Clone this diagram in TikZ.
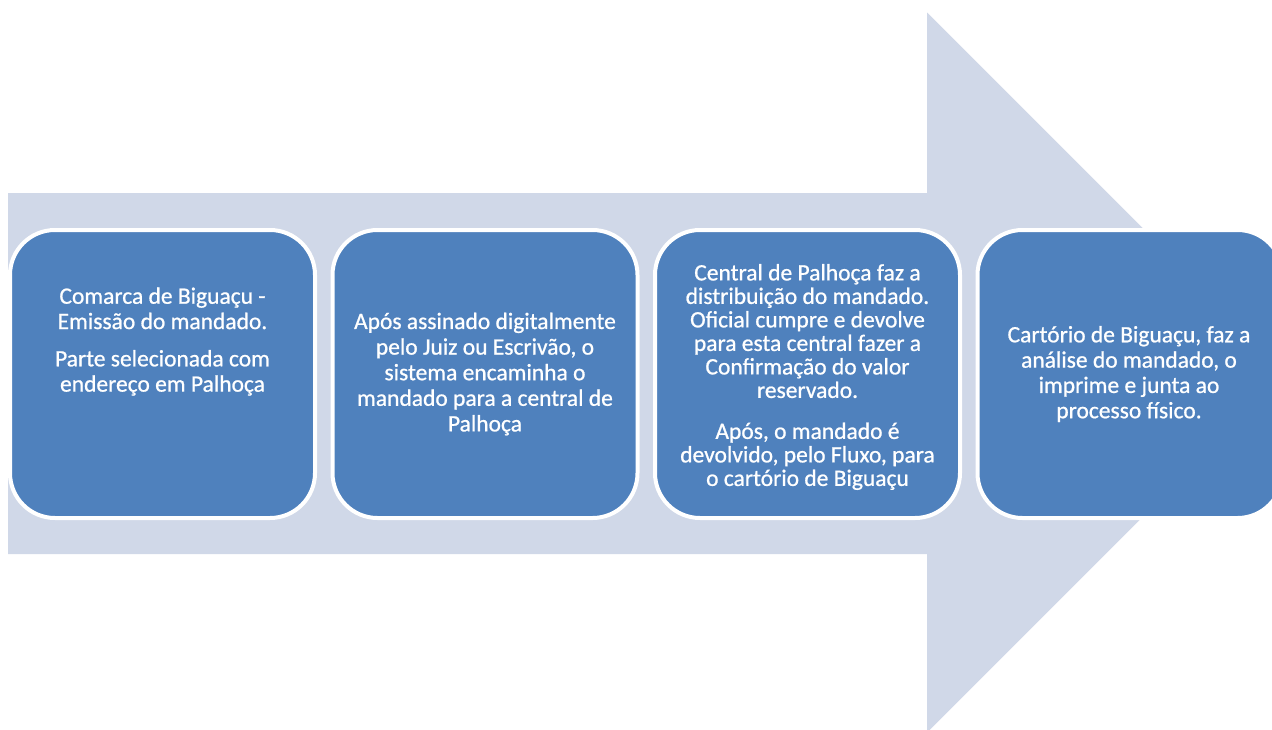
\documentclass[tikz,border=0pt]{standalone}
\usepackage{fontspec}
\setmainfont[FakeBold=0.8]{Carlito}
\definecolor{shaftc}{HTML}{D0D8E8}
\definecolor{boxc}{HTML}{4F81BD}
\begin{document}
\begin{tikzpicture}[x=1pt,y=-1pt,
  stepbox/.style={draw=white,line width=4pt,fill=boxc,rounded corners=45pt,
    minimum width=305pt,minimum height=288pt,inner sep=0pt},
  steptext/.style={text=white,align=center,inner sep=0pt,
    font=\fontsize{23.5}{25.3}\selectfont}]
\useasboundingbox (0,0) rectangle (1272,729);
\clip (0,0) rectangle (1272,729);
\fill[white] (0,0) rectangle (1272,729);
% big arrow
\fill[shaftc] (8,193) -- (927,193) -- (927,12.5) -- (1287,372.5) -- (927,732.5) -- (927,554) -- (8,554) -- cycle;
% boxes
\node[stepbox] (b1) at (162.5,374) {};
\node[stepbox] (b2) at (485,374) {};
\node[stepbox] (b3) at (807.5,374) {};
\node[stepbox] (b4) at (1130,374) {};
% texts
\node[steptext] (t1) at ([yshift=32.5pt]b1.center) {Comarca de Biguaçu -\\Emissão do mandado.\\[12pt]Parte selecionada com\\endereço em Palhoça};
\node[steptext,font=\fontsize{23.5}{25.6}\selectfont] (t2) at (b2.center) {Após assinado digitalmente\\pelo Juiz ou Escrivão, o\\sistema encaminha o\\mandado para a central de\\Palhoça};
\node[steptext,font=\fontsize{23.5}{23.5}\selectfont] (t3) at ([yshift=-3pt]b3.center) {Central de Palhoça faz a\\distribuição do mandado.\\Oficial cumpre e devolve\\para esta central fazer a\\Confirmação do valor\\reservado.\\[17.5pt]Após, o mandado é\\devolvido, pelo Fluxo, para\\o cartório de Biguaçu};
\node[steptext] (t4) at ([xshift=-1pt]b4.center) {Cartório de Biguaçu, faz a\\análise do mandado, o\\imprime e junta ao\\processo físico.};
\end{tikzpicture}
\end{document}
